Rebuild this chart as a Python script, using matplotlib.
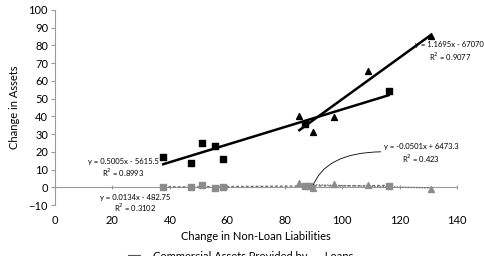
import matplotlib
matplotlib.use("Agg")
import matplotlib.pyplot as plt
import numpy as np

plt.rcParams['font.family'] = ['Lato', 'DejaVu Sans']

# Data
sq_x = [37.7, 47.5, 51.3, 55.8, 58.6, 87.2, 116.2]
sq_y = [17.1, 13.9, 25.0, 23.3, 16.2, 35.7, 54.3]
tri_x = [85.1, 89.7, 97.0, 108.9, 130.8]
tri_y = [40.2, 31.2, 39.6, 65.6, 85.3]
gsq_x = [37.7, 47.5, 51.3, 55.8, 58.6, 87.2, 88.5, 116.2]
gsq_y = [0.3, 0.0, 1.2, -0.2, -0.1, 1.0, 0.8, 0.9]
gtri_x = [85.1, 89.7, 97.0, 108.9, 130.8]
gtri_y = [2.4, -0.3, 1.6, 1.5, -0.8]

xticks = [0, 20, 40, 60, 80, 100, 120, 140]
yticks = [-10, 0, 10, 20, 30, 40, 50, 60, 70, 80, 90, 100]

fig = plt.figure(figsize=(4.84, 2.56), dpi=100)
ax = fig.add_axes([55/484, 1-205/256, 402/484, 195/256])
ax.set_xlim(0, 140)
ax.set_ylim(-10, 100)

grey = '#8c8c8c'

def trend(x, y):
    x = np.array(x); y = np.array(y)
    p = np.polyfit(x, y, 1)
    xs = np.array([x.min(), x.max()])
    return xs, np.polyval(p, xs)

# Trend lines
tx, ty = trend(sq_x, sq_y)
ax.plot(tx, ty, color='black', lw=1.8, zorder=3)
tx, ty = trend(tri_x, tri_y)
ax.plot(tx, ty, color='black', lw=1.8, zorder=3)
tx, ty = trend(gsq_x, gsq_y)
ax.plot(tx, ty, color='#707070', lw=1.0, ls=(0, (2, 1.5)), zorder=3)
tx, ty = trend(gtri_x, gtri_y)
ax.plot(tx, ty, color='#707070', lw=1.0, ls=(0, (1, 1)), zorder=3)

# Points
ax.scatter(sq_x, sq_y, marker='s', s=16, color='black', zorder=4)
ax.scatter(tri_x, tri_y, marker='^', s=18, color='black', zorder=4)
ax.scatter(gsq_x, gsq_y, marker='s', s=16, color=grey, zorder=4)
ax.scatter(gtri_x, gtri_y, marker='^', s=18, color=grey, zorder=4)

# Axes styling
for s in ['top', 'right', 'bottom']:
    ax.spines[s].set_visible(False)
ax.spines['left'].set_color('#9a9a9a')
ax.spines['left'].set_linewidth(0.8)
ax.set_yticks(yticks)
ax.set_xticks(xticks)
ax.tick_params(axis='y', length=3, color='#9a9a9a', labelsize=8, pad=2)
ax.tick_params(axis='x', length=0, labelsize=8, pad=7.5)

sec = ax.secondary_xaxis(10/110)
sec.set_xticks(xticks)
sec.tick_params(axis='x', length=3, direction='inout', color='#9a9a9a', labelbottom=False)
sec.spines['bottom'].set_color('#9a9a9a')
sec.spines['bottom'].set_linewidth(0.8)

ax.set_ylabel('Change in Assets', fontsize=8, labelpad=6)
ax.set_xlabel('Change in Non-Loan Liabilities', fontsize=8, labelpad=3)

# Equation annotations
fs = 5.5
ax.text(137.5, 76.3, 'y = 1.1695x - 67070\nR$^2$ = 0.9077', fontsize=fs, ha='center', va='center', linespacing=1.2)
ax.text(23.7, 10.6, 'y = 0.5005x - 5615.5\nR$^2$ = 0.8993', fontsize=fs, ha='center', va='center', linespacing=1.2)
ax.text(28.0, -9.4, 'y = 0.0134x - 482.75\nR$^2$ = 0.3102', fontsize=fs, ha='center', va='center', linespacing=1.1)
ax.annotate('y = -0.0501x + 6473.3\nR$^2$ = 0.423', xy=(89.7, 0.3), xytext=(127.4, 18.8),
            fontsize=fs, ha='center', va='center', linespacing=1.2,
            arrowprops=dict(arrowstyle='-', lw=0.6, color='black', shrinkA=0, shrinkB=0,
                            relpos=(0, 0.6), connectionstyle='angle3,angleA=0,angleB=70'))

# Clipped legend at the bottom
fig.add_artist(plt.Line2D([128/484, 140/484], [1-254.5/256, 1-254.5/256], color='#555555', lw=0.8))
fig.text(153/484, 1-251.5/256, 'Commercial Assets Provided by      Loans', fontsize=8, ha='left', va='top')

fig.savefig('out.png', dpi=100)
